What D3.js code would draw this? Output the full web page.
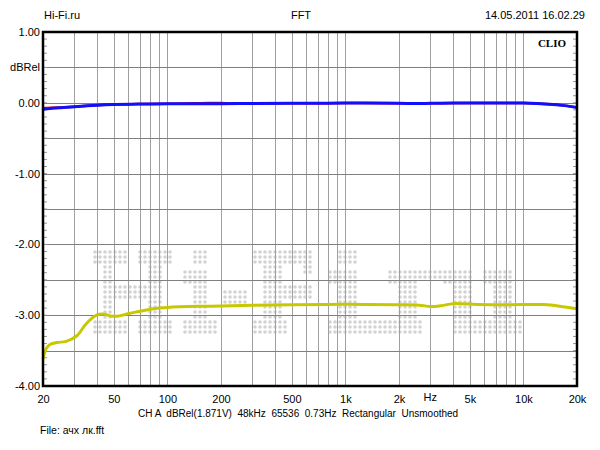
<!DOCTYPE html>
<html><head><meta charset="utf-8">
<script src="https://cdn.jsdelivr.net/npm/d3@7"></script>
<style>
body{margin:0;background:#fff;}
svg text{font-family:"Liberation Sans",Arial,sans-serif;font-size:11px;fill:#000;}
</style></head>
<body><svg id="c" width="600" height="450"></svg>
<script>
// ---- data ----
const xTickValues = [20,50,100,200,500,1000,2000,5000,10000,20000];
const xTickLabels = ["20","50","100","200","500","1k","2k","5k","10k","20k"];
const xGridValues = [20,30,40,50,60,70,80,90,100,200,300,400,500,600,700,800,900,1000,2000,3000,4000,5000,6000,7000,8000,9000,10000,20000];
const yTickValues = [1,0,-1,-2,-3,-4];
const yTickLabels = ["1.00","0.00","-1.00","-2.00","-3.00","-4.00"];
const yGridValues = [0.5,0,-0.5,-1,-1.5,-2,-2.5,-3,-3.5];

const freqBlue = [20,22,25,30,40,50,70,100,200,300,500,1000,2000,2500,3000,4000,5000,7000,10000,14000,17000,20000];
const dbBlue   = [-0.09,-0.08,-0.07,-0.055,-0.035,-0.025,-0.018,-0.014,-0.012,-0.01,-0.008,-0.004,-0.006,-0.01,-0.007,-0.002,-0.004,-0.004,-0.004,-0.02,-0.04,-0.065];
const freqRed  = [20,22,25,30,40,50,70,100,140,170,200,230,300,500,1000,2000,3000,5000,10000,14000,17000,20000];
const dbRed    = [-0.075,-0.07,-0.065,-0.055,-0.035,-0.025,-0.018,-0.014,-0.008,-0.002,-0.004,-0.01,-0.01,-0.008,-0.004,-0.006,-0.007,-0.004,-0.004,-0.02,-0.04,-0.065];
const freqYellow = [20,21,22,24,27,31,35,40,44,48,52,58,65,75,85,100,150,200,300,500,1000,2000,2600,3000,3400,4000,4500,5500,10000,13000,16000,20000];
const dbYellow   = [-3.62,-3.46,-3.41,-3.385,-3.37,-3.29,-3.12,-3.0,-2.985,-3.01,-3.015,-2.99,-2.96,-2.93,-2.905,-2.89,-2.875,-2.87,-2.86,-2.852,-2.847,-2.852,-2.858,-2.878,-2.868,-2.838,-2.838,-2.85,-2.85,-2.85,-2.872,-2.91];
const footerText = "CH A  dBRel(1.871V)  48kHz  65536  0.73Hz  Rectangular  Unsmoothed";

// ---- layout ----
const L=43,R=577,T=32,B=386;
const svg=d3.select("#c");
const x=d3.scaleLog().domain([20,20000]).range([L,R]);
const y=d3.scaleLinear().domain([-4,1]).range([B,T]);

// watermark (decorative dot-matrix "Hi-Fi.ru"), lattice units
const wmRects=[
 [0,0,6,2],[2,0,3,16],[0,14,6,16],[2,7,11,9],[9,0,15,2],[11,0,13,16],[9,14,15,16],
 [20,0,22,2],[18,4,22,6],[20,4,22,16],[18,14,24,16],
 [26,8,30,10],
 [32,0,43,2],[34,0,37,16],[34,7,43,9],[42,3,43,4],[32,14,38,16],
 [49,0,52,2],[47,4,52,6],[49,4,52,16],[47,14,54,16],
 [55,14,58,16],
 [59,4,64,6],[61,4,64,16],[59,14,65,16],[65,4,69,5],
 [70,4,75,6],[72,4,75,16],[78,4,83,6],[80,4,83,16],[72,14,85,16]
];
const dots=new Set();
wmRects.forEach(([c0,r0,c1,r1])=>{for(let c=c0;c<=c1;c++)for(let r=r0;r<=r1;r++)dots.add(c+","+r);});
const wm=svg.append("g");
dots.forEach(k=>{const [c,r]=k.split(",").map(Number);
 wm.append("circle").attr("cx",95+5*c).attr("cy",252+5*r).attr("r",1.8).attr("fill","#d3d3d3");});

// grid
svg.append("g").selectAll("line").data(xGridValues).join("line")
 .attr("x1",d=>Math.round(x(d))+0.5).attr("x2",d=>Math.round(x(d))+0.5).attr("y1",T).attr("y2",B)
 .attr("stroke","#a0a0a0").attr("stroke-width",1);
svg.append("g").selectAll("line").data(yGridValues).join("line")
 .attr("x1",L).attr("x2",R).attr("y1",d=>Math.round(y(d))+0.5).attr("y2",d=>Math.round(y(d))+0.5)
 .attr("stroke","#808080").attr("stroke-width",1);

// minor ticks every 0.1 on left and right
const minor=d3.range(-40,11).map(v=>v/10);
svg.append("g").selectAll("line").data(minor).join("line")
 .attr("x1",L).attr("x2",L+4).attr("y1",d=>y(d)).attr("y2",d=>y(d)).attr("stroke","#999");
svg.append("g").selectAll("line").data(minor).join("line")
 .attr("x1",R-4).attr("x2",R).attr("y1",d=>y(d)).attr("y2",d=>y(d)).attr("stroke","#999");

// curves
const line=(fx,fy)=>d3.line().x((d,i)=>x(fx[i])).y((d,i)=>y(fy[i])).curve(d3.curveCatmullRom.alpha(0.5));
svg.append("path").datum(dbYellow).attr("d",line(freqYellow,dbYellow)).attr("fill","none").attr("stroke","#c8c800").attr("stroke-width",3);
svg.append("path").datum(dbRed).attr("d",line(freqRed,dbRed)).attr("fill","none").attr("stroke","#e00000").attr("stroke-width",2.5);
svg.append("path").datum(dbBlue).attr("d",line(freqBlue,dbBlue)).attr("fill","none").attr("stroke","#1010ff").attr("stroke-width",3);

// frame
svg.append("rect").attr("x",L).attr("y",T).attr("width",R-L).attr("height",B-T).attr("fill","none").attr("stroke","#000").attr("stroke-width",2.5);

// axes labels
const xa=d3.axisBottom(x).tickValues(xTickValues).tickFormat((d,i)=>xTickLabels[i]).tickSize(0).tickPadding(9);
const gx=svg.append("g").attr("transform",`translate(0,${B})`).call(xa);
gx.select(".domain").remove();
gx.selectAll("text").attr("font-size",11).attr("font-family","Liberation Sans, Arial, sans-serif");
svg.append("text").attr("x",x(3000)).attr("y",401).attr("text-anchor","middle").text("Hz");

const ya=d3.axisLeft(y).tickValues(yTickValues).tickFormat((d,i)=>yTickLabels[i]).tickSize(0).tickPadding(3);
const gy=svg.append("g").attr("transform",`translate(${L},0)`).call(ya);
gy.select(".domain").remove();
gy.selectAll("text").attr("font-size",11).attr("font-family","Liberation Sans, Arial, sans-serif");
svg.append("text").attr("x",L-3).attr("y",y(0.5)+4).attr("text-anchor","end").text("dBRel");

// titles
svg.append("text").attr("x",44).attr("y",19).text("Hi-Fi.ru");
svg.append("text").attr("x",301).attr("y",19).attr("text-anchor","middle").text("FFT");
svg.append("text").attr("x",585).attr("y",19).attr("text-anchor","end").text("14.05.2011 16.02.29");
svg.append("text").attr("x",566).attr("y",47).attr("text-anchor","end")
 .style("font-family","'Liberation Serif','DejaVu Serif',serif").style("font-weight","bold").style("font-size","11px").text("CLIO");
svg.append("text").attr("x",138).attr("y",417).attr("xml:space","preserve").style("white-space","pre")
 .style("font-size","10px").text(footerText);
svg.append("text").attr("x",40).attr("y",434).style("font-size","10.5px").text("File: ачх лк.fft");
</script></body></html>
